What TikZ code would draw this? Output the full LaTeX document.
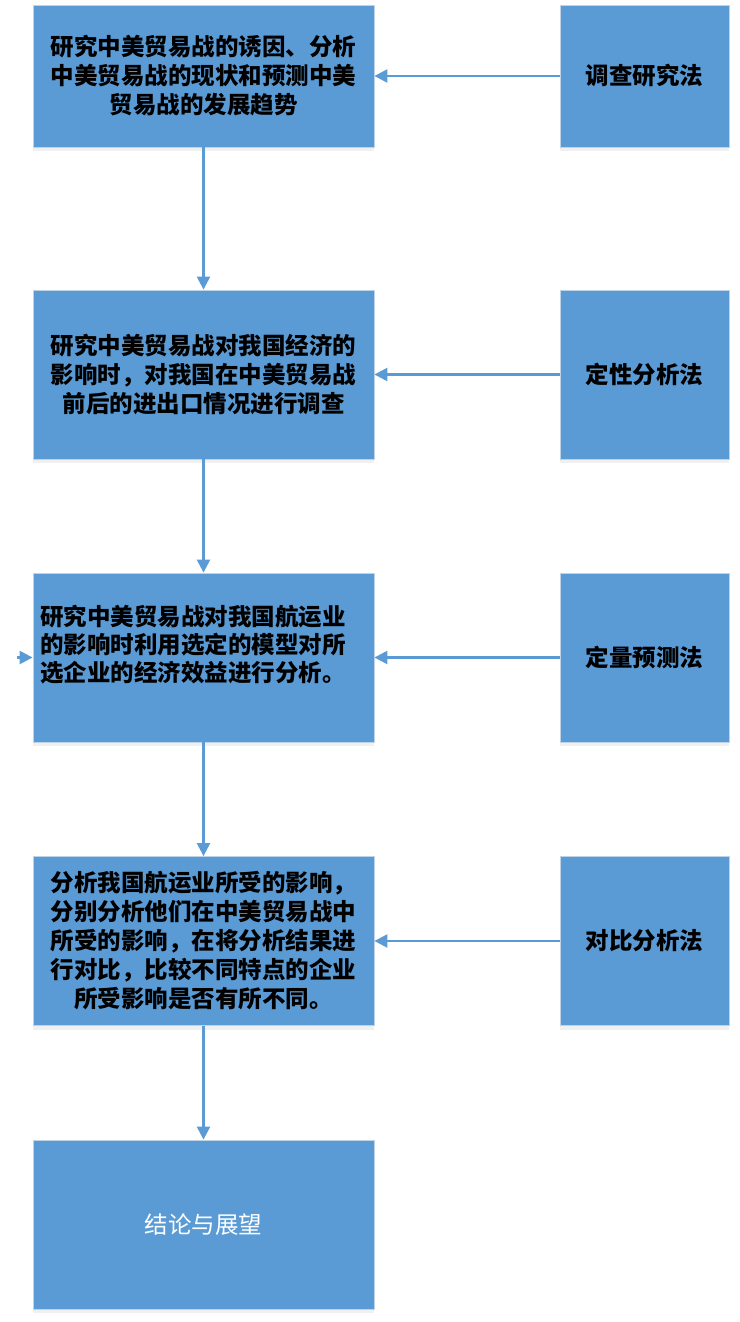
\documentclass[tikz,border=0pt]{standalone}
\usepackage{fontspec}
\newfontfamily\cjk{Noto Sans CJK SC}
\usetikzlibrary{arrows.meta,shadows}
\definecolor{boxblue}{HTML}{5B9BD5}
\definecolor{boxedge}{HTML}{BFD3E6}
\tikzset{
  box/.style={rectangle, fill=boxblue, draw=boxedge, line width=0.8pt,
    drop shadow={opacity=0.12, shadow xshift=0pt, shadow yshift=-4pt},
    font=\cjk\bfseries\fontsize{23.5}{29}\selectfont, text=black, align=center, inner sep=0pt},
  leftbox/.style={box, minimum width=341pt},
  rightbox/.style={box, minimum width=169pt},
  conn/.style={draw=boxblue, line width=2.4pt, -{Triangle[length=13pt,width=13pt]}}
}
\begin{document}
\begin{tikzpicture}[x=1pt,y=-1pt]
\useasboundingbox (0,0) rectangle (739,1322);
\node[leftbox, minimum height=142pt] (b1) at (203.5,76) {研究中美贸易战的诱因、分析\\中美贸易战的现状和预测中美\\贸易战的发展趋势};
\node[leftbox, minimum height=169pt] (b2) at (203.5,374.5) {研究中美贸易战对我国经济的\\影响时，对我国在中美贸易战\\前后的进出口情况进行调查};
\node[leftbox, minimum height=169pt] (b3) at (203.5,657.5) {};
\node[font=\cjk\bfseries\fontsize{23.5}{28}\selectfont, align=left, anchor=west, inner sep=0pt] (b3t) at (40,645) {研究中美贸易战对我国航运业\\的影响时利用选定的模型对所\\选企业的经济效益进行分析。};
\node[leftbox, minimum height=169pt] (b4) at (203.5,941) {分析我国航运业所受的影响，\\分别分析他们在中美贸易战中\\所受的影响，在将分析结果进\\行对比，比较不同特点的企业\\所受影响是否有所不同。};
\node[leftbox, minimum height=169pt, font=\cjk\fontsize{23.5}{29}\selectfont, text=white] (b5) at (203.5,1224.5) {结论与展望};
\node[rightbox, minimum height=142pt] (r1) at (644.5,76) {调查研究法};
\node[rightbox, minimum height=169pt] (r2) at (644.5,374.5) {定性分析法};
\node[rightbox, minimum height=169pt] (r3) at (644.5,657.5) {定量预测法};
\node[rightbox, minimum height=169pt] (r4) at (644.5,941) {对比分析法};
\coordinate (s) at (17,657.5);
\draw[conn] (b1.south) -- (b2.north);
\draw[conn] (b2.south) -- (b3.north);
\draw[conn] (b3.south) -- (b4.north);
\draw[conn] (b4.south) -- (b5.north);
\draw[conn] (r1.west) -- (b1.east);
\draw[conn] (r2.west) -- (b2.east);
\draw[conn] (r3.west) -- (b3.east);
\draw[conn] (r4.west) -- (b4.east);
\draw[conn] (s) -- (b3.west);
\end{tikzpicture}
\end{document}
